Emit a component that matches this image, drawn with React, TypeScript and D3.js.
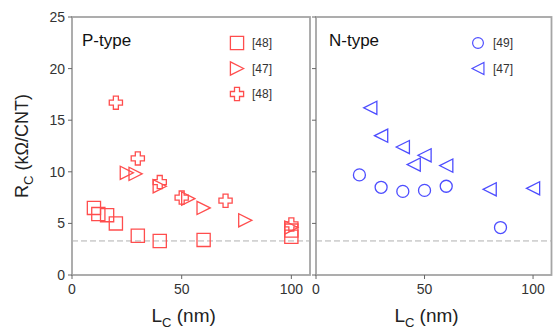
import React from "react";
import * as d3 from "d3";

type Pt = [number, number];

const pSquares: Pt[] = [[10, 6.5], [12, 5.9], [16, 5.8], [20, 5.0], [30, 3.8], [40, 3.3], [60, 3.4], [100, 3.7], [100, 4.3]];
const pTriangles: Pt[] = [[25, 9.9], [29, 9.8], [40, 8.6], [53, 7.4], [60, 6.5], [79, 5.3], [100, 4.6]];
const pCrosses: Pt[] = [[20, 16.7], [30, 11.3], [40, 9.0], [50, 7.5], [70, 7.2], [100, 4.9]];
const nCircles: Pt[] = [[20, 9.7], [30, 8.5], [40, 8.1], [50, 8.2], [60, 8.6], [85, 4.6]];
const nTriangles: Pt[] = [[25, 16.2], [30, 13.5], [40, 12.4], [50, 11.6], [45, 10.7], [60, 10.6], [80, 8.3], [100, 8.4]];

const yTicks = [0, 5, 10, 15, 20, 25];
const xTicks = [0, 50, 100];
const refLine = 3.3;
const pLegend = ["[48]", "[47]", "[48]"];
const nLegend = ["[49]", "[47]"];

const RED = "#ff4d4d";
const BLUE = "#4d4dff";
const FONT = "Liberation Sans, Arial, sans-serif";

const h = 6.6;
const squarePath = `M${-h},${-h}H${h}V${h}H${-h}Z`;
const triRight = `M${h},0L${-h},${-h}L${-h},${h}Z`;
const triLeft = `M${-h},0L${h},${-h}L${h},${h}Z`;
const a = 2.5;
const plusPath = `M${-a},${-h}H${a}V${-a}H${h}V${a}H${a}V${h}H${-a}V${a}H${-h}V${-a}H${-a}Z`;
const circlePath = d3.symbol().type(d3.symbolCircle).size(Math.PI * 6 * 6)() as string;

export default function App() {
  const W = 553, H = 332;
  const top = 17, bottom = 275;
  const y = d3.scaleLinear().domain([0, 25]).range([bottom, top]);
  const xL = d3.scaleLinear().domain([0, 108.5]).range([72, 310]);
  const xR = d3.scaleLinear().domain([0, 108.5]).range([316, 551.5]);

  const marks = (data: Pt[], x: d3.ScaleLinear<number, number>, path: string, color: string, key: string) =>
    data.map((d, i) => (
      <path key={key + i} d={path} transform={`translate(${x(d[0])},${y(d[1])})`} fill="none" stroke={color} strokeWidth={1.3} />
    ));

  const frame = (x: d3.ScaleLinear<number, number>, showY: boolean, key: string) => {
    const [x0, x1] = x.range();
    return (
      <g key={key}>
        <rect x={x0} y={top} width={x1 - x0} height={bottom - top} fill="none" stroke="#a5a5a5" strokeWidth={1.8} />
        {yTicks.map((t) => (
          <g key={"y" + t}>
            <line x1={x0 - 4} x2={x0} y1={y(t)} y2={y(t)} stroke="#666" strokeWidth={1} />
            {showY && (
              <text x={x0 - 7} y={y(t)} dy="0.36em" textAnchor="end" fontSize={14} fill="#333" fontFamily={FONT}>{t}</text>
            )}
          </g>
        ))}
        {xTicks.map((t) => (
          <g key={"x" + t}>
            <line x1={x(t)} x2={x(t)} y1={bottom} y2={bottom + 4} stroke="#666" strokeWidth={1} />
            <text x={x(t)} y={bottom + 19} textAnchor="middle" fontSize={14} fill="#333" fontFamily={FONT}>{t}</text>
          </g>
        ))}
        <line x1={x0} x2={x1} y1={y(refLine)} y2={y(refLine)} stroke="#b0b0b0" strokeWidth={1} strokeDasharray="6,3" />
        <text x={(x0 + x(100)) / 2 + 2} y={bottom + 47} textAnchor="middle" fontSize={19} fill="#222" fontFamily={FONT}>
          L<tspan fontSize={13} dy={5}>C</tspan><tspan dy={-5}> (nm)</tspan>
        </text>
      </g>
    );
  };

  return (
    <svg width={W} height={H} style={{ position: "absolute", left: 0, top: 0, background: "#fff" }}>
      {frame(xL, true, "L")}
      {frame(xR, false, "R")}
      <text transform={`translate(28,${(top + bottom) / 2}) rotate(-90)`} textAnchor="middle" fontSize={18} fill="#222" fontFamily={FONT}>
        R<tspan fontSize={13} dy={5}>C</tspan><tspan dy={-5}> (kΩ/CNT)</tspan>
      </text>
      <text x={82} y={46} fontSize={17} fill="#111" fontFamily={FONT}>P-type</text>
      <text x={329} y={46} fontSize={17} fill="#111" fontFamily={FONT}>N-type</text>
      {marks(pSquares, xL, squarePath, RED, "ps")}
      {marks(pTriangles, xL, triRight, RED, "pt")}
      {marks(pCrosses, xL, plusPath, RED, "pc")}
      {marks(nCircles, xR, circlePath, BLUE, "nc")}
      {marks(nTriangles, xR, triLeft, BLUE, "nt")}
      {[squarePath, triRight, plusPath].map((p, i) => (
        <g key={"lp" + i} transform={`translate(237,${43 + i * 25.5})`}>
          <path d={p} fill="none" stroke={RED} strokeWidth={1.3} />
          <text x={15} dy="0.36em" fontSize={12} fill="#333" fontFamily={FONT}>{pLegend[i]}</text>
        </g>
      ))}
      {[circlePath, triLeft].map((p, i) => (
        <g key={"ln" + i} transform={`translate(478,${43 + i * 25.5})`}>
          <path d={p} fill="none" stroke={BLUE} strokeWidth={1.3} transform="scale(0.9)" />
          <text x={15} dy="0.36em" fontSize={12} fill="#333" fontFamily={FONT}>{nLegend[i]}</text>
        </g>
      ))}
    </svg>
  );
}
